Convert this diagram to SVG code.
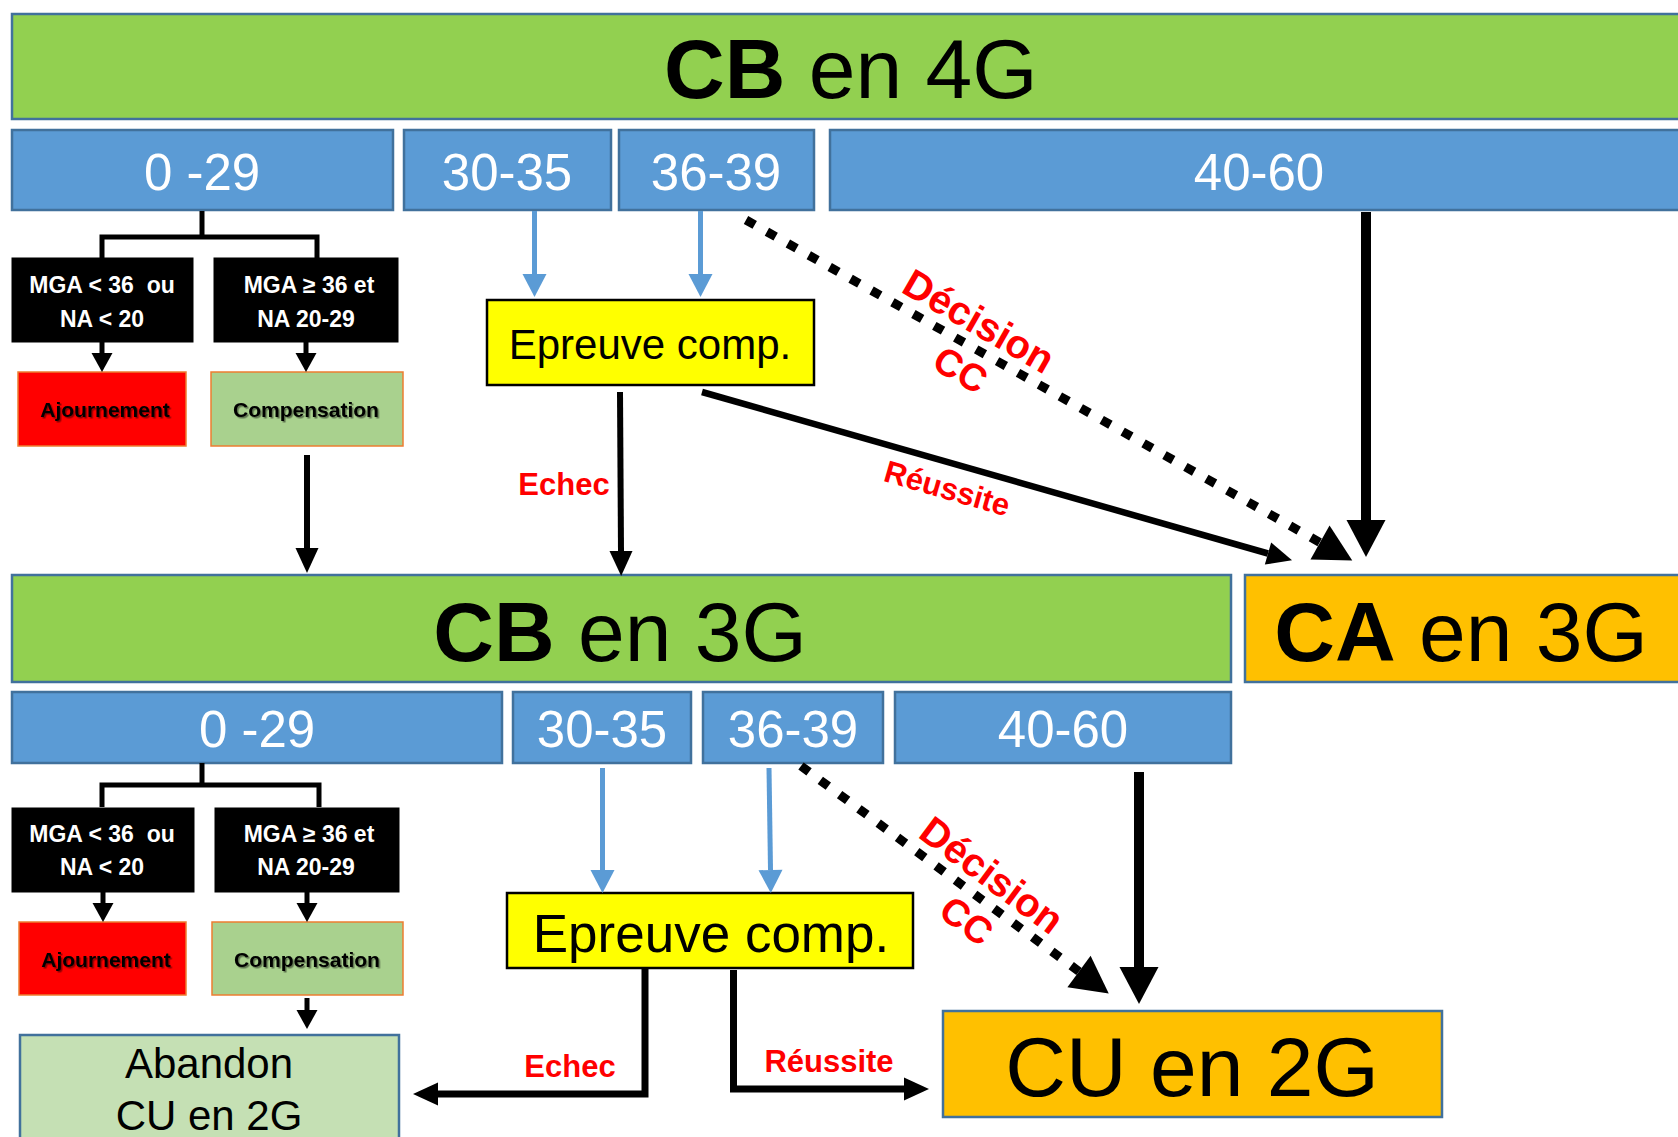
<svg xmlns="http://www.w3.org/2000/svg" width="1678" height="1137" viewBox="0 0 1678 1137">
<style>
.green{fill:#92D050;stroke:#41719C;stroke-width:2.5}
.blue{fill:#5B9BD5;stroke:#41719C;stroke-width:2.5}
.gold{fill:#FFC000;stroke:#41719C;stroke-width:2.5}
.blk{fill:#000;stroke:#000;stroke-width:1}
.ajo{fill:#FF0000;stroke:#ED7D31;stroke-width:1.5}
.cmp{fill:#A9D18E;stroke:#ED7D31;stroke-width:1.5}
.yel{fill:#FFFF00;stroke:#000;stroke-width:2.5}
.aban{fill:#C5E0B4;stroke:#41719C;stroke-width:2.5}
text{font-family:"Liberation Sans",Arial,sans-serif}
.big{font-size:84px;fill:#000}
.rng{font-size:51px;fill:#fff;text-anchor:middle}
.crit{font-size:23px;font-weight:bold;fill:#fff;text-anchor:middle}
.res{font-size:21px;font-weight:bold;fill:#000;text-anchor:middle;filter:url(#sh)}
.lbl{font-weight:bold;fill:#FF0000;text-anchor:middle}
.ln{fill:none;stroke:#000}
.bl{fill:none;stroke:#5B9BD5;stroke-width:5}
</style>
<defs>
<filter id="sh" x="-10%" y="-30%" width="120%" height="160%"><feDropShadow dx="1.5" dy="1.5" stdDeviation="0.7" flood-color="#000" flood-opacity="0.45"/></filter>
<marker id="aS" markerUnits="userSpaceOnUse" markerWidth="19" markerHeight="21" refX="0" refY="10.5" orient="auto" overflow="visible"><path d="M0,0 L19,10.5 L0,21 Z" fill="#000"/></marker>
<marker id="aM" markerUnits="userSpaceOnUse" markerWidth="25" markerHeight="23" refX="0" refY="11.5" orient="auto" overflow="visible"><path d="M0,0 L25,11.5 L0,23 Z" fill="#000"/></marker>
<marker id="aB" markerUnits="userSpaceOnUse" markerWidth="23" markerHeight="24" refX="0" refY="12" orient="auto" overflow="visible"><path d="M0,0 L23,12 L0,24 Z" fill="#5B9BD5"/></marker>
<marker id="aL" markerUnits="userSpaceOnUse" markerWidth="37" markerHeight="39" refX="0" refY="19.5" orient="auto" overflow="visible"><path d="M0,0 L37,19.5 L0,39 Z" fill="#000"/></marker>
</defs>

<!-- ===== Level 4G ===== -->
<g id="cb4g"><rect class="green" x="12" y="14" width="1680" height="105"/><text class="big" x="664" y="98"><tspan font-weight="bold">CB</tspan> en 4G</text></g>
<g id="r1-0-29"><rect class="blue" x="12" y="130" width="381" height="80"/><text class="rng" x="202" y="190">0 -29</text></g>
<g id="r1-30-35"><rect class="blue" x="404" y="130" width="207" height="80"/><text class="rng" x="507" y="190">30-35</text></g>
<g id="r1-36-39"><rect class="blue" x="619" y="130" width="195" height="80"/><text class="rng" x="716" y="190">36-39</text></g>
<g id="r1-40-60"><rect class="blue" x="830" y="130" width="860" height="80"/><text class="rng" x="1259" y="190">40-60</text></g>
<g id="r1-crit1"><rect class="blk" x="12" y="258" width="181" height="84"/><text class="crit" x="102" y="293" xml:space="preserve">MGA &lt; 36  ou</text><text class="crit" x="102" y="327">NA &lt; 20</text></g>
<g id="r1-crit2"><rect class="blk" x="214" y="258" width="184" height="84"/><text class="crit" x="309" y="293">MGA ≥ 36 et</text><text class="crit" x="306" y="327">NA 20-29</text></g>
<g id="r1-ajourn"><rect class="ajo" x="18" y="372" width="168" height="74"/><text class="res" x="105" y="417">Ajournement</text></g>
<g id="r1-comp"><rect class="cmp" x="211" y="372" width="192" height="74"/><text class="res" x="306" y="417">Compensation</text></g>
<g id="r1-epreuve"><rect class="yel" x="487" y="300" width="327" height="85"/><text x="650" y="359" font-size="42" text-anchor="middle">Epreuve comp.</text></g>

<!-- ===== Level 3G ===== -->
<g id="cb3g"><rect class="green" x="12" y="575" width="1219" height="107"/><text class="big" x="620" y="661" text-anchor="middle"><tspan font-weight="bold">CB</tspan> en 3G</text></g>
<g id="ca3g"><rect class="gold" x="1245" y="575" width="450" height="107"/><text class="big" x="1461" y="661" text-anchor="middle"><tspan font-weight="bold">CA</tspan> en 3G</text></g>
<g id="r2-0-29"><rect class="blue" x="12" y="692" width="490" height="71"/><text class="rng" x="257" y="747">0 -29</text></g>
<g id="r2-30-35"><rect class="blue" x="513" y="692" width="178" height="71"/><text class="rng" x="602" y="747">30-35</text></g>
<g id="r2-36-39"><rect class="blue" x="703" y="692" width="180" height="71"/><text class="rng" x="793" y="747">36-39</text></g>
<g id="r2-40-60"><rect class="blue" x="895" y="692" width="336" height="71"/><text class="rng" x="1063" y="747">40-60</text></g>
<g id="r2-crit1"><rect class="blk" x="12" y="808" width="182" height="84"/><text class="crit" x="102" y="842" xml:space="preserve">MGA &lt; 36  ou</text><text class="crit" x="102" y="875">NA &lt; 20</text></g>
<g id="r2-crit2"><rect class="blk" x="215" y="808" width="184" height="84"/><text class="crit" x="309" y="842">MGA ≥ 36 et</text><text class="crit" x="306" y="875">NA 20-29</text></g>
<g id="r2-ajourn"><rect class="ajo" x="19" y="922" width="167" height="73"/><text class="res" x="106" y="967">Ajournement</text></g>
<g id="r2-comp"><rect class="cmp" x="212" y="922" width="191" height="73"/><text class="res" x="307" y="967">Compensation</text></g>
<g id="r2-epreuve"><rect class="yel" x="507" y="893" width="406" height="75"/><text x="711" y="952" font-size="53" text-anchor="middle">Epreuve comp.</text></g>
<g id="abandon"><rect class="aban" x="20" y="1035" width="379" height="120"/><text x="209" y="1078" font-size="42" text-anchor="middle">Abandon</text><text x="209" y="1130" font-size="42" text-anchor="middle">CU en 2G</text></g>
<g id="cu2g"><rect class="gold" x="943" y="1011" width="499" height="106"/><text class="big" x="1192" y="1096" text-anchor="middle">CU en 2G</text></g>

<!-- ===== Connectors ===== -->
<g id="connectors">
<path class="ln" stroke-width="5" d="M202,211 V237 M102,258 V237 H317 V258"/>
<path class="ln" stroke-width="5" d="M102,342 V353" marker-end="url(#aS)"/>
<path class="ln" stroke-width="5" d="M306,342 V353" marker-end="url(#aS)"/>
<path class="ln" stroke-width="6" d="M307,455 V548" marker-end="url(#aM)"/>
<path class="bl" d="M534.5,211 V274" marker-end="url(#aB)"/>
<path class="bl" d="M700.5,211 V274" marker-end="url(#aB)"/>
<path class="ln" stroke-width="6" d="M620,392 L621,551" marker-end="url(#aM)"/>
<path class="ln" stroke-width="6.5" d="M702,392 L1268,553.5" marker-end="url(#aM)"/>
<path class="ln" stroke-width="9" stroke-dasharray="10 14" d="M746,220 L1320,542.5" marker-end="url(#aL)"/>
<path class="ln" stroke-width="10" d="M1366,212 V520" marker-end="url(#aL)"/>

<path class="ln" stroke-width="5" d="M202,763 V785 M102,807 V785 H319 V807"/>
<path class="ln" stroke-width="5" d="M103,892 V903" marker-end="url(#aS)"/>
<path class="ln" stroke-width="5" d="M307,892 V903" marker-end="url(#aS)"/>
<path class="ln" stroke-width="5" d="M307,998 V1010" marker-end="url(#aS)"/>
<path class="bl" d="M602.5,768 V870" marker-end="url(#aB)"/>
<path class="bl" d="M769,768 L770.5,870" marker-end="url(#aB)"/>
<path class="ln" stroke-width="7" d="M645,968 V1094 H438" marker-end="url(#aM)"/>
<path class="ln" stroke-width="7" d="M733.5,970 V1089 H904" marker-end="url(#aM)"/>
<path class="ln" stroke-width="10" d="M1139,772 V967" marker-end="url(#aL)"/>
<path class="ln" stroke-width="9" stroke-dasharray="10 14" d="M801,766 L1079,971.5" marker-end="url(#aL)"/>

<text class="lbl" x="564" y="495" font-size="31">Echec</text>
<text class="lbl" font-size="31" transform="translate(947,489) rotate(16)" y="10">Réussite</text>
<text class="lbl" font-size="40" transform="translate(979,321) rotate(30)" y="14">Décision</text>
<text class="lbl" font-size="38" transform="translate(961,369) rotate(30)" y="14">CC</text>
<text class="lbl" font-size="40" transform="translate(992,875) rotate(36.6)" y="14">Décision</text>
<text class="lbl" font-size="38" transform="translate(967,920) rotate(36.6)" y="14">CC</text>
<text class="lbl" x="570" y="1077" font-size="31">Echec</text>
<text class="lbl" x="829" y="1072" font-size="31">Réussite</text>
</g>
</svg>
